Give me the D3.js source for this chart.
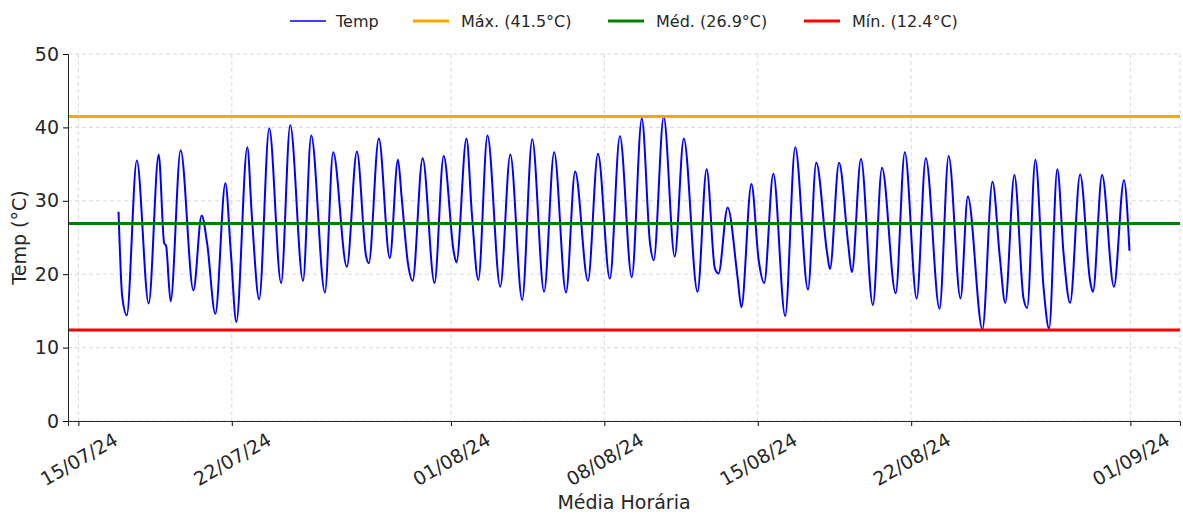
<!DOCTYPE html>
<html>
<head>
<meta charset="utf-8">
<script src="https://cdn.jsdelivr.net/npm/d3@7"></script>
<style>
    body { margin: 0; background: #fff; }
    text { font-family: "DejaVu Sans", sans-serif; fill: #262626; }
</style>
</head>
<body>
<svg id="temp-chart"></svg>
<script>
const times = [
    "07-16 20", "07-17 00", "07-17 05", "07-17 16", "07-18 05", "07-18 16", "07-18 22", "07-19 00",
    "07-19 05", "07-19 16", "07-20 06", "07-20 15", "07-20 21", "07-21 06", "07-21 17", "07-21 23",
    "07-22 05", "07-22 17", "07-22 22", "07-23 06", "07-23 17", "07-24 06", "07-24 16", "07-25 06",
    "07-25 15", "07-26 06", "07-26 15", "07-27 06", "07-27 17", "07-28 03", "07-28 06", "07-28 17",
    "07-29 05", "07-29 14", "07-29 18", "07-30 01", "07-30 06", "07-30 17", "07-31 06", "07-31 16",
    "08-01 03", "08-01 06", "08-01 17", "08-01 23", "08-02 06", "08-02 16", "08-03 06", "08-03 17",
    "08-04 06", "08-04 17", "08-05 06", "08-05 17", "08-06 06", "08-06 16", "08-07 06", "08-07 17",
    "08-08 06", "08-08 17", "08-09 06", "08-09 17", "08-10 02", "08-10 06", "08-10 17", "08-11 05",
    "08-11 15", "08-12 06", "08-12 16", "08-13 01", "08-13 05", "08-13 15", "08-14 02", "08-14 06",
    "08-14 17", "08-15 01", "08-15 07", "08-15 17", "08-16 06", "08-16 17", "08-17 07", "08-17 16",
    "08-18 04", "08-18 07", "08-18 17", "08-19 03", "08-19 07", "08-19 17", "08-20 06", "08-20 16",
    "08-21 07", "08-21 17", "08-22 06", "08-22 16", "08-23 07", "08-23 17", "08-24 06", "08-24 14",
    "08-25 06", "08-25 17", "08-26 01", "08-26 07", "08-26 17", "08-27 03", "08-27 07", "08-27 16",
    "08-28 01", "08-28 07", "08-28 16", "08-28 23", "08-29 06", "08-29 17", "08-30 04", "08-30 07",
    "08-30 17", "08-31 06", "08-31 17", "08-31 23"
];
const temps = [
    28.5, 17.0, 14.4, 35.5, 16.0, 36.3, 24.2, 23.9,
    16.3, 36.9, 17.8, 28.0, 24.2, 14.6, 32.4, 22.9,
    13.5, 37.3, 27.9, 16.6, 39.9, 18.8, 40.3, 19.1,
    38.9, 17.5, 36.6, 21.0, 36.7, 22.5, 21.5, 38.5,
    22.2, 35.6, 30.5, 21.4, 19.1, 35.8, 18.8, 36.1,
    23.1, 21.6, 38.5, 28.1, 19.2, 38.9, 18.3, 36.3,
    16.5, 38.4, 17.6, 36.6, 17.5, 34.0, 19.1, 36.4,
    19.4, 38.8, 19.6, 41.2, 24.2, 21.9, 41.4, 22.4,
    38.5, 17.6, 34.3, 20.8, 20.1, 29.1, 19.4, 15.5,
    32.3, 21.9, 18.8, 33.7, 14.3, 37.3, 17.9, 35.2,
    22.8, 20.7, 35.2, 24.1, 20.3, 35.7, 15.8, 34.5,
    17.4, 36.6, 16.7, 35.8, 15.3, 36.1, 16.7, 30.6,
    12.5, 32.6, 22.4, 16.1, 33.5, 16.7, 15.4, 35.6,
    18.1, 12.6, 34.3, 22.6, 16.1, 33.6, 19.0, 17.6,
    33.5, 18.3, 32.8, 23.2
];

const refNames = ["Máx. (41.5°C)", "Méd. (26.9°C)", "Mín. (12.4°C)"];
const refValues = [41.5, 26.9, 12.4];
const refColors = ["orange", "green", "red"];

const xTickLabels = ["15/07/24", "22/07/24", "01/08/24", "08/08/24", "15/08/24", "22/08/24", "01/09/24"];
const yTicks = [0, 10, 20, 30, 40, 50];

class TempChart {
    constructor(_data) {
        this.data = _data;
        this.initVis();
    }

    initVis() {
        let vis = this;

        vis.width = 1183;
        vis.height = 515;
        vis.margin = { top: 54, right: 3, bottom: 94, left: 68 };
        vis.innerW = vis.width - vis.margin.left - vis.margin.right;
        vis.innerH = vis.height - vis.margin.top - vis.margin.bottom;

        vis.svg = d3.select("#temp-chart")
            .attr("width", vis.width)
            .attr("height", vis.height);

        vis.g = vis.svg.append("g")
            .attr("transform", `translate(${vis.margin.left},${vis.margin.top})`);

        // 5% padding either side, like matplotlib's default margins
        let ext = d3.extent(vis.data, d => d.t);
        let pad = (ext[1] - ext[0]) * 0.05;
        vis.x = d3.scaleTime()
            .domain([new Date(+ext[0] - pad), new Date(+ext[1] + pad)])
            .range([0, vis.innerW]);

        vis.y = d3.scaleLinear()
            .domain([0, 50])
            .range([vis.innerH, 0]);

        let parseTick = d3.timeParse("%d/%m/%y");
        vis.xTicks = xTickLabels.map(parseTick);

        vis.renderVis();
    }

    renderVis() {
        let vis = this;
        let g = vis.g;

        // grid
        g.append("g").selectAll("line")
            .data(yTicks)
            .join("line")
            .attr("x1", 0).attr("x2", vis.innerW)
            .attr("y1", d => vis.y(d)).attr("y2", d => vis.y(d))
            .attr("stroke", "#cfcfcf")
            .attr("stroke-dasharray", "4,3")
            .attr("stroke-width", 0.8);

        g.append("g").selectAll("line")
            .data(vis.xTicks)
            .join("line")
            .attr("x1", d => vis.x(d)).attr("x2", d => vis.x(d))
            .attr("y1", 0).attr("y2", vis.innerH)
            .attr("stroke", "#cfcfcf")
            .attr("stroke-dasharray", "4,3")
            .attr("stroke-width", 0.8);

        g.append("line")
            .attr("x1", vis.innerW).attr("x2", vis.innerW)
            .attr("y1", 0).attr("y2", vis.innerH)
            .attr("stroke", "#cfcfcf")
            .attr("stroke-dasharray", "4,3")
            .attr("stroke-width", 0.8);

        // temperature line
        vis.line = d3.line()
            .x(d => vis.x(d.t))
            .y(d => vis.y(d.v))
            .curve(d3.curveMonotoneX);

        g.append("path")
            .datum(vis.data)
            .attr("d", vis.line)
            .attr("fill", "none")
            .attr("stroke", "#0000ff")
            .attr("stroke-width", 2)
            .attr("stroke-linejoin", "round");

        // max / mean / min reference lines
        g.append("g").selectAll("line")
            .data(refValues)
            .join("line")
            .attr("x1", 0).attr("x2", vis.innerW)
            .attr("y1", d => vis.y(d)).attr("y2", d => vis.y(d))
            .attr("stroke", (_, i) => refColors[i])
            .attr("stroke-width", 3);

        // axes
        let yAxis = g.append("g")
            .call(d3.axisLeft(vis.y).tickValues(yTicks).tickSize(5).tickPadding(4));
        yAxis.select(".domain").attr("stroke", "#262626");
        yAxis.selectAll("text")
            .attr("font-size", 19)
            .attr("font-family", "DejaVu Sans");

        let fmt = d3.timeFormat("%d/%m/%y");
        let xAxis = g.append("g")
            .attr("transform", `translate(0,${vis.innerH})`)
            .call(d3.axisBottom(vis.x).tickValues(vis.xTicks).tickFormat(fmt).tickSize(5));
        xAxis.select(".domain").attr("stroke", "#262626");
        xAxis.selectAll("text")
            .attr("font-size", 19)
            .attr("font-family", "DejaVu Sans")
            .attr("y", 0).attr("dy", 0)
            .attr("text-anchor", "middle")
            .attr("dominant-baseline", "central")
            .attr("transform", "translate(0,38) rotate(-30)");

        // axis labels
        g.append("text")
            .attr("transform", `translate(${-42},${vis.innerH / 2}) rotate(-90)`)
            .attr("text-anchor", "middle")
            .attr("font-size", 19)
            .text("Temp (°C)");

        g.append("text")
            .attr("x", vis.innerW / 2)
            .attr("y", vis.innerH + 88)
            .attr("text-anchor", "middle")
            .attr("font-size", 19)
            .text("Média Horária");

        // legend across the top
        let legendItems = [{ name: "Temp", color: "#0000ff", w: 1.5 }]
            .concat(refNames.map((n, i) => ({ name: n, color: refColors[i], w: 3 })));
        let legendX = [290, 413, 608, 804];

        let leg = vis.svg.append("g").selectAll("g")
            .data(legendItems)
            .join("g")
            .attr("transform", (d, i) => `translate(${legendX[i]},21)`);

        leg.append("line")
            .attr("x1", 0).attr("x2", 36)
            .attr("stroke", d => d.color)
            .attr("stroke-width", d => d.w);

        leg.append("text")
            .attr("x", d => d.w > 2 ? 48 : 46)
            .attr("dominant-baseline", "central")
            .attr("font-size", 16)
            .text(d => d.name);
    }
}

let parseTime = d3.timeParse("%Y-%m-%d %H");
let data = times.map((t, i) => ({ t: parseTime("2024-" + t), v: temps[i] }));
new TempChart(data);
</script>
</body>
</html>
